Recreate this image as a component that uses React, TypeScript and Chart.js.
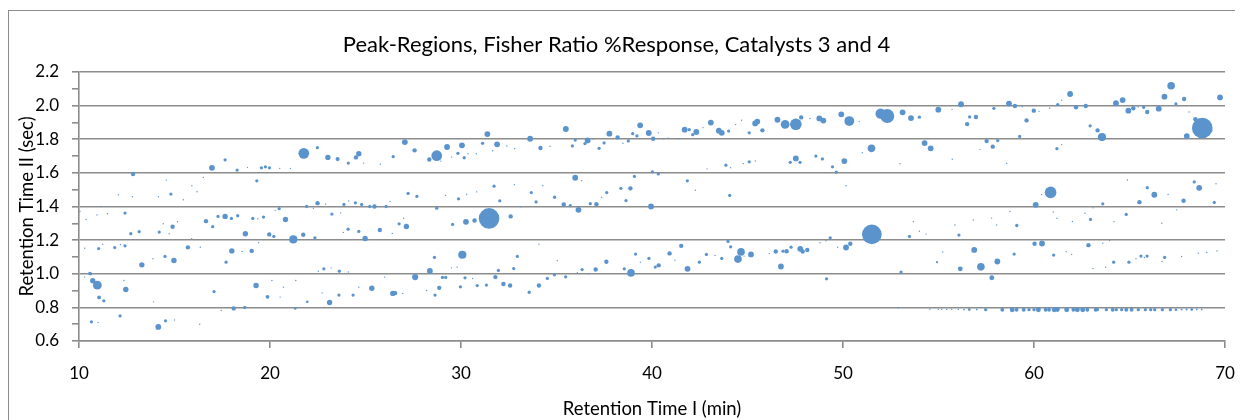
import React, { useEffect, useRef } from 'react';
import { Chart, registerables } from 'chart.js';

Chart.register(...registerables);

// [retention time I (min), retention time II (sec), % response]
type Peak = [number, number, number];

const titleText = 'Peak-Regions, Fisher Ratio %Response, Catalysts 3 and 4';
const xAxisTitle = 'Retention Time I (min)';
const yAxisTitle = 'Retention Time II (sec)';
const xTickValues = [10, 20, 30, 40, 50, 60, 70];
const yTickValues = [0.6, 0.8, 1.0, 1.2, 1.4, 1.6, 1.8, 2.0, 2.2];

const peaksEarlyUpper: Peak[] = [
  [12.83, 1.593, 4], [12.06, 1.47, 0.4], [12.8, 1.458, 0.4], [14.57, 1.557, 0.4], [14.16, 1.458, 0.4],
  [14.81, 1.474, 2.2], [15.91, 1.523, 0.4], [16.18, 1.488, 0.4], [16.51, 1.573, 0.4], [16.96, 1.63, 7],
  [17.65, 1.678, 2.2], [18.28, 1.617, 2.2], [18.82, 1.633, 0.4], [19.31, 1.553, 2.2], [19.55, 1.63, 2.2],
  [19.76, 1.636, 2.2], [19.97, 1.63, 2.2], [20.51, 1.627, 0.4], [21.07, 1.627, 0.4], [21.77, 1.716, 24],
  [22.48, 1.75, 2.2], [23.03, 1.692, 6], [23.54, 1.682, 3.5], [24.1, 1.658, 2.2], [24.5, 1.692, 4],
  [24.65, 1.714, 6], [24.9, 1.658, 0.4], [25.78, 1.652, 0.4], [26.45, 1.696, 2.2], [27.06, 1.783, 7],
  [27.57, 1.734, 4], [28.34, 1.68, 4], [28.73, 1.702, 24], [28.94, 1.67, 0.4], [29.27, 1.754, 7],
  [29.51, 1.694, 0.4], [29.84, 1.716, 2.2], [27.23, 1.478, 2.2], [27.69, 1.46, 2.2], [29.87, 1.446, 2.2],
  [29.19, 1.466, 0.4], [15.46, 1.44, 0.4], [24.12, 1.433, 0.4], [26.29, 1.43, 0.4],
];

const peaksEarlyMiddle: Peak[] = [
  [10.05, 1.37, 0.4], [10.37, 1.323, 0.4], [10.94, 1.35, 0.4], [11.15, 1.40, 0.4], [11.49, 1.357, 0.4],
  [12.41, 1.361, 2.2], [12.71, 1.238, 2.2], [13.15, 1.25, 2.2], [14.2, 1.248, 2.2], [14.41, 1.297, 0.4],
  [14.72, 1.238, 0.4], [14.9, 1.28, 4], [15.16, 1.309, 0.4], [15.9, 1.208, 0.4], [16.65, 1.313, 4],
  [17.0, 1.28, 2.2], [17.28, 1.341, 2.2], [17.65, 1.341, 6], [17.98, 1.329, 2.2], [18.31, 1.345, 2.2],
  [18.71, 1.238, 6], [19.1, 1.329, 2.2], [19.36, 1.327, 0.4], [19.66, 1.337, 2.2], [19.96, 1.234, 4],
  [20.2, 1.222, 2.2], [20.27, 1.377, 0.4], [20.48, 1.387, 2.2], [20.81, 1.323, 6], [21.22, 1.204, 14],
  [21.74, 1.232, 4], [21.92, 1.40, 2.2], [22.27, 1.389, 0.4], [22.35, 1.214, 2.2], [22.49, 1.42, 4],
  [22.91, 1.414, 0.4], [23.24, 1.355, 2.2], [23.7, 1.362, 0.4], [23.84, 1.246, 0.4], [23.87, 1.412, 2.2],
  [24.09, 1.265, 2.2], [24.47, 1.422, 2.2], [24.65, 1.252, 2.2], [24.8, 1.412, 2.2], [24.98, 1.21, 6],
  [25.22, 1.40, 2.2], [25.47, 1.40, 4], [25.75, 1.26, 4], [26.08, 1.40, 2.2], [26.4, 1.24, 0.4],
  [26.76, 1.297, 2.2], [27.0, 1.33, 0.4], [27.14, 1.281, 6], [28.73, 1.39, 2.2], [29.56, 1.293, 2.2],
];

const peaksEarlyLower: Peak[] = [
  [10.3, 1.152, 0.4], [11.03, 1.15, 2.2], [11.24, 1.176, 0.4], [11.87, 1.156, 2.2], [12.17, 1.174, 0.4],
  [12.41, 1.166, 2.2], [13.29, 1.053, 6], [13.87, 1.089, 0.4], [14.5, 1.103, 2.2], [14.97, 1.079, 6],
  [15.7, 1.157, 4], [16.35, 1.158, 0.4], [17.7, 1.069, 2.2], [18.0, 1.136, 6], [18.54, 1.133, 0.4],
  [19.04, 1.136, 4], [19.41, 1.184, 0.4], [22.53, 1.015, 0.4], [22.82, 1.029, 2.2], [23.2, 1.035, 0.4],
  [23.63, 1.015, 2.2], [24.1, 1.01, 0.4], [28.37, 1.017, 7], [28.61, 1.097, 2.2], [29.8, 1.04, 0.4],
  [29.5, 1.035, 0.4], [10.6, 1.0, 2.2], [10.56, 1.002, 2.2], [10.3, 0.98, 0.4], [10.72, 0.958, 6],
  [10.96, 0.932, 16], [11.05, 0.859, 3], [11.3, 0.839, 2.2], [12.35, 0.96, 0.4], [12.45, 0.906, 6],
  [13.9, 0.833, 0.4], [17.07, 0.894, 2.2], [18.1, 0.794, 4], [18.68, 0.80, 2.2], [19.27, 0.93, 6],
  [19.87, 0.863, 3], [20.1, 0.96, 0.4], [20.53, 0.861, 0.4], [20.7, 0.92, 0.4], [21.32, 0.794, 1.5],
  [21.35, 0.96, 0.4], [21.95, 0.833, 1.5], [22.73, 0.886, 0.4], [23.12, 0.829, 6], [23.61, 0.873, 2.2],
  [24.35, 0.873, 2.2], [24.65, 0.92, 0.4], [25.33, 0.914, 6], [26.0, 0.98, 0.4], [26.43, 0.883, 6],
  [26.55, 0.885, 4], [26.95, 0.883, 0.4], [27.6, 0.98, 8], [28.2, 0.9, 0.4], [28.64, 0.873, 2.2],
  [28.86, 0.916, 4], [29.03, 0.978, 2.2], [29.2, 0.978, 2.2], [29.97, 0.922, 2.2],
  [10.65, 0.714, 2.2], [11.0, 0.71, 0.4], [12.15, 0.749, 2.2], [14.15, 0.684, 7], [14.53, 0.72, 2.2],
  [15.0, 0.725, 0.4], [16.32, 0.70, 0.4], [17.45, 0.782, 0.4],
];

const peaksMidUpper: Peak[] = [
  [30.05, 1.764, 7], [30.17, 1.69, 2.2], [30.37, 1.714, 0.4], [30.8, 1.714, 0.4], [31.38, 1.831, 7],
  [31.13, 1.776, 2.2], [31.89, 1.77, 7], [32.4, 1.76, 0.4], [32.81, 1.744, 0.4], [31.66, 1.732, 0.4],
  [33.62, 1.803, 7], [34.16, 1.748, 4], [34.66, 1.758, 0.4], [35.49, 1.861, 7], [35.98, 1.795, 2.2],
  [35.83, 1.76, 2.2], [36.49, 1.774, 2.2], [36.63, 1.793, 7], [36.93, 1.802, 0.4], [37.23, 1.746, 2.2],
  [37.49, 1.778, 2.2], [37.77, 1.833, 7], [38.2, 1.811, 4], [38.48, 1.776, 0.4], [38.76, 1.79, 2.2],
  [38.99, 1.833, 2.2], [39.21, 1.82, 2.2], [39.38, 1.883, 7], [39.83, 1.837, 7], [40.06, 1.803, 4],
  [40.33, 1.838, 0.4], [40.61, 1.803, 0.4], [40.85, 1.806, 0.4], [41.38, 1.803, 0.4], [41.71, 1.857, 7],
  [41.95, 1.857, 2.2], [42.32, 1.843, 7], [42.13, 1.827, 2.2], [42.67, 1.869, 0.4], [43.08, 1.899, 7],
  [43.5, 1.851, 7], [43.65, 1.838, 7], [44.01, 1.849, 2.2], [44.38, 1.887, 0.4], [44.69, 1.913, 0.4],
  [45.09, 1.838, 2.2], [45.4, 1.894, 7], [45.51, 1.905, 7], [45.78, 1.853, 4], [46.57, 1.916, 7],
  [46.97, 1.889, 16], [47.53, 1.889, 28], [47.81, 1.93, 4], [48.27, 1.923, 0.4], [48.76, 1.924, 7],
  [48.97, 1.911, 7], [49.91, 1.948, 7], [50.33, 1.908, 20], [43.87, 1.646, 2.2], [44.12, 1.631, 0.4],
  [44.78, 1.655, 0.4], [45.09, 1.666, 2.2], [45.41, 1.671, 0.4], [47.53, 1.686, 7], [47.24, 1.663, 2.2],
  [47.75, 1.663, 2.2], [48.58, 1.70, 2.2], [48.92, 1.683, 2.2], [49.45, 1.636, 2.2], [49.65, 1.604, 2.2],
  [50.07, 1.67, 7], [42.88, 1.624, 0.4], [35.98, 1.571, 7], [36.32, 1.554, 0.4], [39.08, 1.579, 2.2],
  [40.02, 1.606, 2.2], [40.33, 1.594, 2.2], [41.85, 1.553, 2.2], [42.27, 1.497, 0.4], [44.07, 1.466, 2.2],
  [31.73, 1.521, 2.2], [32.79, 1.53, 0.4], [34.28, 1.523, 0.4], [33.68, 1.483, 2.2], [34.9, 1.455, 2.2],
  [38.37, 1.508, 2.2], [38.87, 1.508, 4], [30.3, 1.473, 0.4], [30.82, 1.487, 0.4], [37.63, 1.483, 2.2],
  [37.37, 1.455, 0.4], [50.16, 1.523, 0.4], [32.03, 1.434, 2.2], [33.93, 1.427, 2.2], [35.38, 1.412, 4],
  [35.72, 1.405, 2.2], [36.15, 1.38, 7], [36.77, 1.417, 2.2], [37.09, 1.414, 4], [38.64, 1.435, 2.2],
  [39.95, 1.40, 7],
];

const peaksMidLower: Peak[] = [
  [30.26, 1.309, 7], [30.71, 1.317, 4], [31.47, 1.329, 88], [32.6, 1.341, 4], [33.13, 1.398, 0.4],
  [34.08, 1.176, 0.4], [35.04, 1.077, 0.4], [30.07, 1.113, 14], [32.95, 1.103, 2.2], [31.96, 1.02, 2.2],
  [32.76, 1.031, 2.2], [36.34, 1.025, 2.2], [37.05, 1.025, 4], [37.61, 1.071, 4], [38.55, 1.029, 2.2],
  [38.9, 1.005, 12], [39.14, 1.117, 2.2], [39.39, 1.069, 0.4], [39.84, 1.091, 2.2], [40.17, 1.04, 2.2],
  [40.35, 1.05, 4], [40.92, 1.121, 4], [41.53, 1.166, 4], [41.2, 1.081, 0.4], [41.86, 1.029, 7],
  [42.48, 1.069, 2.2], [42.85, 1.115, 2.2], [43.3, 1.109, 0.4], [43.65, 1.091, 2.2], [43.98, 1.192, 2.2],
  [44.12, 1.16, 2.2], [44.66, 1.13, 12], [44.5, 1.087, 12], [44.82, 1.105, 0.4], [45.18, 1.115, 7],
  [46.14, 1.12, 0.4], [46.48, 1.132, 4], [46.86, 1.134, 2.2], [47.05, 1.134, 4], [47.28, 1.158, 2.2],
  [46.75, 1.043, 7], [47.76, 1.148, 7], [47.89, 1.132, 4], [48.13, 1.142, 4], [48.8, 1.184, 0.4],
  [49.11, 1.196, 0.4], [49.33, 1.214, 2.2], [49.72, 1.158, 0.4], [50.16, 1.156, 7], [50.38, 1.178, 4],
  [49.14, 0.97, 2.2], [30.85, 0.93, 2.2], [30.21, 0.976, 2.2], [30.61, 0.972, 0.4], [31.33, 0.933, 2.2],
  [31.8, 0.98, 4], [32.22, 0.939, 4], [32.57, 0.93, 4], [33.57, 0.89, 2.2], [34.08, 0.93, 4],
  [34.52, 0.972, 2.2], [34.89, 0.994, 2.2], [35.48, 0.982, 2.2], [36.09, 1.006, 0.4], [36.69, 1.0, 0.4],
];

const peaksLateUpper: Peak[] = [
  [51.97, 1.952, 22], [52.32, 1.938, 40], [53.12, 1.96, 7], [53.56, 1.926, 7], [54.0, 1.931, 2.2],
  [54.99, 1.976, 7], [55.71, 1.978, 0.4], [56.18, 2.008, 7], [56.5, 1.89, 4], [56.63, 1.933, 2.2],
  [56.96, 1.932, 4], [57.9, 1.984, 2.2], [58.69, 2.012, 7], [59.0, 1.998, 4], [59.39, 1.994, 0.4],
  [59.61, 1.912, 4], [59.99, 1.97, 4], [60.26, 1.966, 0.4], [60.82, 1.984, 0.4], [61.24, 2.006, 2.2],
  [61.45, 2.032, 0.4], [61.89, 2.069, 7], [62.2, 1.99, 4], [62.71, 1.998, 4], [62.94, 1.88, 2.2],
  [63.33, 1.853, 4], [63.56, 1.813, 14], [64.29, 2.014, 7], [64.64, 2.033, 7], [64.94, 1.97, 7],
  [65.2, 1.984, 4], [65.45, 1.992, 0.4], [65.74, 1.99, 2.2], [65.93, 1.962, 4], [66.53, 1.982, 7],
  [66.83, 2.053, 7], [67.18, 2.118, 12], [67.43, 2.01, 2.2], [67.86, 2.039, 4], [68.12, 1.962, 0.4],
  [68.45, 1.919, 4], [68.81, 1.867, 88], [68.0, 1.819, 7], [69.32, 1.851, 0.4], [69.74, 2.049, 7],
  [50.85, 1.905, 0.4], [51.49, 1.746, 12], [51.01, 1.72, 0.4], [54.27, 1.777, 7], [54.59, 1.746, 7],
  [52.98, 1.655, 0.4], [55.72, 1.681, 0.4], [57.52, 1.789, 4], [57.84, 1.756, 4], [58.1, 1.792, 2.2],
  [57.17, 1.74, 0.4], [58.57, 1.657, 0.4], [59.25, 1.817, 2.2], [61.2, 1.744, 2.2], [61.45, 1.768, 0.4],
  [60.87, 1.484, 28], [60.4, 1.471, 0.4], [66.3, 1.47, 7], [65.93, 1.512, 2.2], [68.39, 1.546, 2.2],
  [68.65, 1.511, 7], [69.53, 1.535, 0.4], [64.89, 1.558, 0.4], [60.09, 1.41, 7], [67.02, 1.471, 0.4],
  [65.52, 1.426, 4], [67.83, 1.434, 4], [69.44, 1.424, 2.2], [63.6, 1.416, 2.2], [63.09, 1.392, 0.4],
];

const peaksLateLower: Peak[] = [
  [64.83, 1.353, 2.2], [62.96, 1.323, 2.2], [59.1, 1.287, 2.2], [56.07, 1.23, 2.2], [53.48, 1.222, 2.2],
  [54.35, 1.236, 0.4], [54.0, 1.253, 0.4], [53.68, 1.309, 0.4], [51.51, 1.234, 80], [60.03, 1.178, 4],
  [60.42, 1.18, 7], [62.85, 1.17, 4], [63.6, 1.182, 0.4], [63.96, 1.198, 0.4], [56.87, 1.142, 7],
  [57.22, 1.041, 12], [58.08, 1.073, 7], [57.79, 0.976, 5], [56.14, 1.029, 5], [58.96, 1.117, 2.2],
  [61.03, 1.111, 2.2], [61.68, 1.131, 0.4], [61.97, 1.115, 0.4], [54.92, 1.069, 1], [53.04, 1.01, 2.2],
  [63.09, 1.031, 0.4], [63.75, 1.039, 0.4], [64.17, 1.069, 2.2], [64.97, 1.069, 2.2], [65.34, 1.089, 0.4],
  [65.6, 1.105, 2.2], [65.78, 1.097, 0.4], [65.92, 1.105, 2.2], [66.84, 1.097, 2.2], [66.7, 1.073, 0.4],
  [69.58, 1.136, 0.4], [67.73, 1.103, 0.4], [68.6, 1.122, 0.4], [69.04, 1.126, 0.4], [58.74, 1.37, 0.4],
  [61.01, 1.368, 0.4], [61.2, 1.33, 0.4], [55.86, 1.29, 0.4], [56.82, 1.32, 0.4], [57.78, 1.331, 0.4],
  [58.04, 1.29, 0.4], [62.01, 1.311, 0.4], [62.67, 1.36, 0.4], [64.19, 1.31, 0.4], [66.69, 1.3, 0.4],
  [55.22, 1.13, 0.4], [67.47, 1.38, 0.4],
];

const peaksBaselineRow: Peak[] = [
  [52.9, 0.797, 0.4], [54.55, 0.789, 0.4], [54.99, 0.788, 0.4], [55.17, 0.789, 0.4], [55.43, 0.788, 0.4],
  [55.69, 0.789, 0.4], [56.04, 0.788, 0.4], [56.34, 0.787, 0.6], [56.61, 0.787, 1.5], [57.0, 0.788, 0.6],
  [57.47, 0.786, 2.2], [58.34, 0.786, 3], [58.86, 0.786, 5], [59.09, 0.786, 3], [59.46, 0.786, 3],
  [59.74, 0.786, 2.2], [60.0, 0.786, 2.2], [60.23, 0.786, 5], [60.61, 0.786, 3], [60.79, 0.786, 3],
  [61.06, 0.786, 5], [61.22, 0.787, 5], [61.71, 0.786, 5], [62.06, 0.786, 3], [62.27, 0.786, 5],
  [62.55, 0.786, 5], [62.79, 0.786, 3], [63.23, 0.786, 3], [63.32, 0.786, 2.2], [63.79, 0.786, 2.2],
  [64.12, 0.786, 3], [64.31, 0.786, 2.2], [64.59, 0.786, 2.2], [64.83, 0.786, 3], [65.11, 0.786, 3],
  [65.46, 0.786, 2.2], [65.83, 0.786, 2.2], [66.11, 0.786, 2.2], [66.32, 0.786, 2.2], [66.72, 0.786, 2.2],
  [67.14, 0.786, 2.2], [67.43, 0.786, 1.5], [67.73, 0.787, 0.8], [67.99, 0.787, 0.8], [68.26, 0.787, 1.5],
  [68.52, 0.788, 0.6], [68.78, 0.788, 0.6],
];

const allPeaks: Peak[] = [
  ...peaksEarlyUpper, ...peaksEarlyMiddle, ...peaksEarlyLower,
  ...peaksMidUpper, ...peaksMidLower,
  ...peaksLateUpper, ...peaksLateLower, ...peaksBaselineRow,
];

const FONT = 'Lato, "Open Sans", sans-serif';
const GRID = '#8c8c8c';

const frame = {
  id: 'frame',
  afterDraw(chart: any) {
    const { ctx, width, height } = chart;
    ctx.save();
    ctx.strokeStyle = '#8c8c8c';
    ctx.lineWidth = 1;
    ctx.strokeRect(0.5, 0.5, width - 1, height - 1);
    ctx.restore();
  },
};

export default function App() {
  const ref = useRef<HTMLCanvasElement>(null);
  useEffect(() => {
    document.documentElement.style.overflow = 'hidden';
    document.body.style.overflow = 'hidden';
    const points = allPeaks.map(([x, y, v]) => ({ x, y, r: 1.1 * Math.sqrt(v) }));
    const isMajor = (v: number) => Math.round(v * 10) % 2 === 0;
    const chart = new Chart(ref.current as HTMLCanvasElement, {
      type: 'bubble',
      data: {
        datasets: [
          {
            data: points,
            backgroundColor: '#5B94CD',
            borderWidth: 0,
          },
        ],
      },
      options: {
        responsive: false,
        animation: false,
        layout: { padding: { left: 0, right: 26, top: 0, bottom: 0 } },
        plugins: {
          legend: { display: false },
          tooltip: { enabled: false },
          title: {
            display: true,
            text: titleText,
            color: '#000',
            font: { family: FONT, size: 22, weight: 'normal' },
            padding: { top: 21.8, bottom: 13.8 },
          },
        },
        scales: {
          x: {
            type: 'linear',
            min: xTickValues[0],
            max: xTickValues[xTickValues.length - 1],
            afterBuildTicks: (scale: any) => {
              scale.ticks = xTickValues.map((value) => ({ value }));
            },
            afterFit: (scale: any) => {
              scale.height = 99;
            },
            ticks: {
              color: '#000',
              font: { family: FONT, size: 17 },
              padding: 15,
              maxRotation: 0,
              autoSkip: false,
            },
            grid: {
              drawOnChartArea: false,
              drawTicks: true,
              tickLength: 7,
              color: GRID,
              tickColor: GRID,
              lineWidth: 1.6,
            },
            border: { color: GRID, width: 1.6 },
            title: {
              display: true,
              text: xAxisTitle,
              color: '#000',
              font: { family: FONT, size: 18.5 },
              padding: { top: 0, bottom: 19.5 },
            },
          },
          y: {
            type: 'linear',
            min: yTickValues[0],
            max: yTickValues[yTickValues.length - 1],
            afterFit: (scale: any) => {
              scale.width = 71;
            },
            ticks: {
              stepSize: 0.1,
              autoSkip: false,
              color: '#000',
              font: { family: FONT, size: 17 },
              padding: 13,
              callback: (value: any) => {
                const v = Number(value);
                return isMajor(v) ? v.toFixed(1) : '';
              },
            },
            grid: {
              drawTicks: true,
              tickLength: 7,
              color: (ctx: any) => (ctx.tick && isMajor(ctx.tick.value) ? GRID : 'rgba(0,0,0,0)'),
              tickColor: GRID,
              lineWidth: 1.6,
            },
            border: { color: GRID, width: 1.6 },
            title: {
              display: true,
              text: yAxisTitle,
              color: '#000',
              font: { family: FONT, size: 18.5 },
              padding: { top: 7.5, bottom: 0 },
            },
          },
        },
      },
      plugins: [frame],
    } as any);
    return () => chart.destroy();
  }, []);

  return (
    <div style={{ width: 1235, height: 412, overflow: 'hidden', position: 'relative' }}>
      <canvas
        ref={ref}
        width={1243}
        height={430}
        style={{ position: 'absolute', left: 0, top: 2, width: 1243, height: 430 }}
      />
    </div>
  );
}
